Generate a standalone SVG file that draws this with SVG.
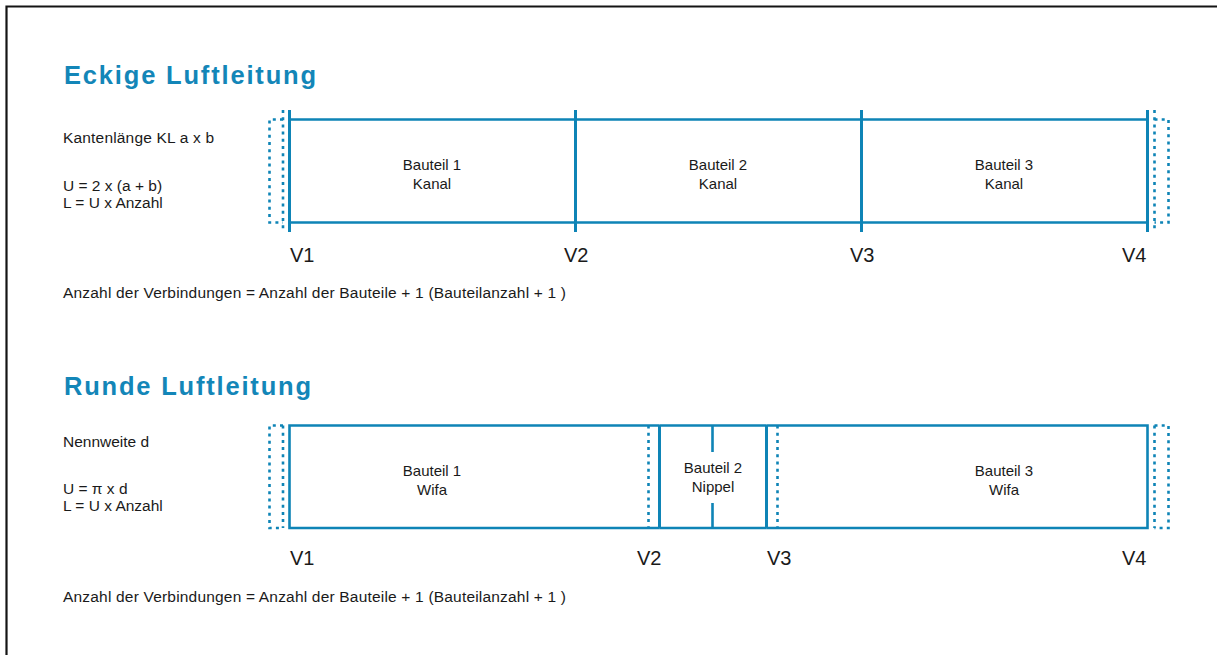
<svg xmlns="http://www.w3.org/2000/svg" width="1217" height="655" viewBox="0 0 1217 655">
  <style>
    .frame { fill: none; stroke: #141414; stroke-width: 2.2; }
    .title { font-family: "Liberation Sans", Arial, sans-serif; font-weight: bold; font-size: 25.5px; fill: #1386b8; }
    .txt { font-family: "Liberation Sans", Arial, sans-serif; font-size: 15.5px; fill: #1a1a1a; }
    .lbl { font-family: "Liberation Sans", Arial, sans-serif; font-size: 15px; fill: #1a1a1a; text-anchor: middle; }
    .v { font-family: "Liberation Sans", Arial, sans-serif; font-size: 20px; fill: #1a1a1a; }
    .duct { fill: none; stroke: #0e84b6; stroke-width: 2.6; }
    .joint { fill: none; stroke: #0e84b6; stroke-width: 3; }
    .dot { fill: none; stroke: #0e84b6; stroke-width: 2.6; stroke-dasharray: 3 4.2; }
  </style>
  <rect width="1217" height="655" fill="#ffffff"/>
  <path class="frame" d="M6.5,655 V6.5 H1217"/>

  <!-- Eckige Luftleitung -->
  <g id="section-eckig">
    <text class="title" x="64" y="84" textLength="252" lengthAdjust="spacing">Eckige Luftleitung</text>
    <text class="txt" x="63" y="143" textLength="151" lengthAdjust="spacing">Kantenlänge KL a x b</text>
    <text class="txt" x="63" y="191">U = 2 x (a + b)</text>
    <text class="txt" x="63" y="208">L = U x Anzahl</text>
    <text class="txt" x="63" y="298" textLength="503" lengthAdjust="spacing">Anzahl der Verbindungen = Anzahl der Bauteile + 1 (Bauteilanzahl + 1 )</text>
  </g>

  <g id="eckig-bauteil-1">
    <path class="duct" d="M289,119.5 H575 M289,222.5 H575"/>
    <text class="lbl" x="432" y="170">Bauteil 1</text>
    <text class="lbl" x="432" y="189">Kanal</text>
  </g>
  <g id="eckig-bauteil-2">
    <path class="duct" d="M575,119.5 H861 M575,222.5 H861"/>
    <text class="lbl" x="718" y="170">Bauteil 2</text>
    <text class="lbl" x="718" y="189">Kanal</text>
  </g>
  <g id="eckig-bauteil-3">
    <path class="duct" d="M861,119.5 H1147 M861,222.5 H1147"/>
    <text class="lbl" x="1004" y="170">Bauteil 3</text>
    <text class="lbl" x="1004" y="189">Kanal</text>
  </g>

  <g id="eckig-verbindungen">
    <path class="dot" d="M283,110 V232"/>
    <path class="dot" d="M283,119.5 H269.5 V222.5 H283"/>
    <path class="joint" d="M289.5,110 V232"/>
    <path class="joint" d="M575.5,110 V232"/>
    <path class="joint" d="M861.5,110 V232"/>
    <path class="joint" d="M1147.5,110 V232"/>
    <path class="dot" d="M1154.5,110 V232"/>
    <path class="dot" d="M1154.5,119.5 H1168.5 V222.5 H1154.5"/>
    <text class="v" x="290" y="262">V1</text>
    <text class="v" x="564" y="262">V2</text>
    <text class="v" x="850" y="262">V3</text>
    <text class="v" x="1122" y="262">V4</text>
  </g>

  <!-- Runde Luftleitung -->
  <g id="section-rund">
    <text class="title" x="64" y="395" textLength="247" lengthAdjust="spacing">Runde Luftleitung</text>
    <text class="txt" x="63" y="447">Nennweite d</text>
    <text class="txt" x="63" y="494">U = π x d</text>
    <text class="txt" x="63" y="511">L = U x Anzahl</text>
    <text class="txt" x="63" y="602" textLength="503" lengthAdjust="spacing">Anzahl der Verbindungen = Anzahl der Bauteile + 1 (Bauteilanzahl + 1 )</text>
  </g>

  <g id="rund-bauteil-1">
    <path class="duct" d="M289.5,425.5 H659.5 M289.5,528 H659.5 M289.5,424.2 V529.3"/>
    <text class="lbl" x="432" y="476">Bauteil 1</text>
    <text class="lbl" x="432" y="495">Wifa</text>
  </g>
  <g id="rund-bauteil-2">
    <path class="duct" d="M659.5,425.5 H766.5 M659.5,528 H766.5"/>
    <path class="duct" d="M712.5,425.5 V452 M712.5,503 V528"/>
    <text class="lbl" x="713" y="473">Bauteil 2</text>
    <text class="lbl" x="713" y="492">Nippel</text>
  </g>
  <g id="rund-bauteil-3">
    <path class="duct" d="M766.5,425.5 H1147.5 M766.5,528 H1147.5 M1147.5,424.2 V529.3"/>
    <text class="lbl" x="1004" y="476">Bauteil 3</text>
    <text class="lbl" x="1004" y="495">Wifa</text>
  </g>

  <g id="rund-verbindungen">
    <path class="dot" d="M283,425.5 V528"/>
    <path class="dot" d="M283,425.5 H269.5 V528 H283"/>
    <path class="dot" d="M648.5,425.5 V528"/>
    <path class="joint" d="M659.5,425 V528.5"/>
    <path class="joint" d="M766.5,425 V528.5"/>
    <path class="dot" d="M777.5,425.5 V528"/>
    <path class="dot" d="M1154.5,425.5 V528"/>
    <path class="dot" d="M1154.5,425.5 H1168.5 V528 H1154.5"/>
    <text class="v" x="290" y="565">V1</text>
    <text class="v" x="637" y="565">V2</text>
    <text class="v" x="767" y="565">V3</text>
    <text class="v" x="1122" y="565">V4</text>
  </g>
</svg>
